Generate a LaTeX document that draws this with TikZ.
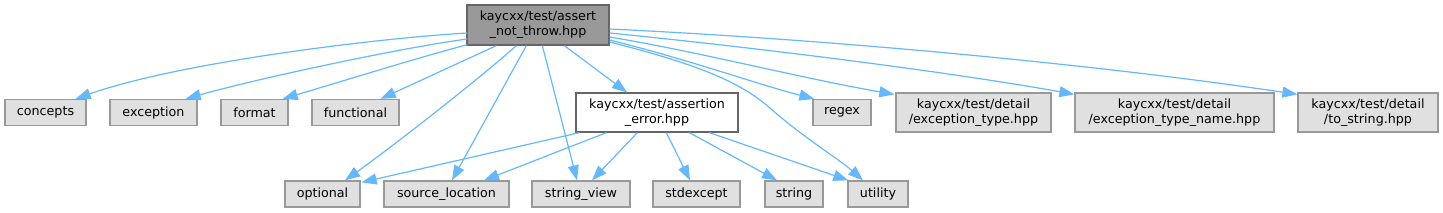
\documentclass[tikz,border=0pt]{standalone}
\usepackage{fontspec}
\setmainfont{DejaVu Sans}
\usetikzlibrary{arrows.meta,calc}
\definecolor{edgeblue}{HTML}{63B8FF}
\definecolor{nodegray}{HTML}{E0E0E0}
\definecolor{bordergray}{HTML}{999999}
\definecolor{rootfill}{HTML}{999999}
\definecolor{rootborder}{HTML}{666666}
\begin{document}
\begin{tikzpicture}[x=1pt,y=-1pt,
  base/.style={rectangle,inner sep=0pt,align=center,font=\fontsize{12.7}{15}\selectfont,line width=1.3pt},
  leaf/.style={base,fill=nodegray,draw=bordergray,minimum height=26pt},
  rootbox/.style={base,fill=rootfill,draw=rootborder},
  mainbox/.style={base,fill=white,draw=rootborder},
  dep/.style={draw=edgeblue,line width=1.2pt,-{Triangle[length=15pt,width=11pt,fill=edgeblue]}},
]
\useasboundingbox (0,0) rectangle (1443,212);
% nodes
\node[rootbox,minimum width=142pt,minimum height=40pt] (root) at (538,25) {kaycxx/test/assert\\\_not\_throw.hpp};
\node[mainbox,minimum width=162pt,minimum height=39pt] (aerr) at (657,112.5) {kaycxx/test/assertion\\\_error.hpp};
\node[leaf,minimum width=81pt] (concepts) at (45.5,112.5) {concepts};
\node[leaf,minimum width=87pt] (exception) at (153.5,112.5) {exception};
\node[leaf,minimum width=67pt] (format) at (254.5,112.5) {format};
\node[leaf,minimum width=87pt] (functional) at (355.5,112.5) {functional};
\node[leaf,minimum width=58pt] (regex) at (842,112.5) {regex};
\node[leaf,minimum width=155pt,minimum height=39pt] (etype) at (973.5,112.5) {kaycxx/test/detail\\/exception\_type.hpp};
\node[leaf,minimum width=199pt,minimum height=39pt] (etname) at (1174.5,112.5) {kaycxx/test/detail\\/exception\_type\_name.hpp};
\node[leaf,minimum width=140pt,minimum height=39pt] (tostr) at (1368,112.5) {kaycxx/test/detail\\/to\_string.hpp};
\node[leaf,minimum width=75pt] (optional) at (322.5,194) {optional};
\node[leaf,minimum width=125pt] (srcloc) at (446.5,194) {source\_location};
\node[leaf,minimum width=98pt] (strview) at (581,194) {string\_view};
\node[leaf,minimum width=87pt] (stdexcept) at (696.5,194) {stdexcept};
\node[leaf,minimum width=58pt] (string) at (794,194) {string};
\node[leaf,minimum width=60pt] (utility) at (878,194) {utility};
% edges from root
\draw[dep] ($(root.west)+(1,8)$) .. controls (380,38) and (180,62) .. ($(concepts.north east)+(-11,0)$);
\draw[dep] ($(root.west)+(1,14)$) .. controls (400,48) and (260,78) .. ($(exception.north east)+(-12,0)$);
\draw[dep] ($(root.south west)+(1,-1)$) .. controls (410,60) and (340,82) .. ($(format.north east)+(-6,0)$);
\draw[dep] ($(root.south west)+(30,0)$) -- ($(functional.north east)+(-19,0)$);
\draw[dep] ($(root.south west)+(50,0)$) .. controls (472,85) and (385,152) .. ($(optional.north)+(22.5,0)$);
\draw[dep] ($(root.south west)+(60,0)$) -- ($(srcloc.north)+(5.5,0)$);
\draw[dep] ($(root.south west)+(76,0)$) -- ($(strview.north)+(-4,0)$);
\draw[dep] ($(root.south west)+(98,0)$) -- ($(aerr.north)+(-30,0)$);
\draw[dep] ($(root.east)+(0,17)$) .. controls (700,65) and (740,82) .. (770,108) .. controls (800,135) and (840,160) .. ($(utility.north)+(-15,0)$);
\draw[dep] ($(root.east)+(0,15)$) .. controls (690,60) and (760,85) .. ($(regex.north west)+(2,0)$);
\draw[dep] ($(root.east)+(0,12)$) .. controls (700,52) and (800,78) .. ($(etype.north west)+(-1,2)$);
\draw[dep] ($(root.east)+(0,8)$) .. controls (760,48) and (950,72) .. ($(etname.north west)+(0,2)$);
\draw[dep] ($(root.east)+(0,4)$) .. controls (840,40) and (1100,65) .. ($(tostr.north west)+(0,2)$);
% edges from assertion_error
\draw[dep] ($(aerr.south west)+(4,0)$) -- ($(optional.north east)+(1,2)$);
\draw[dep] ($(aerr.south west)+(31,0)$) -- ($(srcloc.north)+(37.5,0)$);
\draw[dep] ($(aerr.south west)+(62,0)$) -- ($(strview.north)+(11,0)$);
\draw[dep] ($(aerr.south west)+(91,0)$) -- ($(stdexcept.north)+(-6.5,0)$);
\draw[dep] ($(aerr.south west)+(114,0)$) -- ($(string.north)+(-17,0)$);
\draw[dep] ($(aerr.south west)+(134,0)$) -- ($(utility.north west)+(1,0)$);
\end{tikzpicture}
\end{document}
